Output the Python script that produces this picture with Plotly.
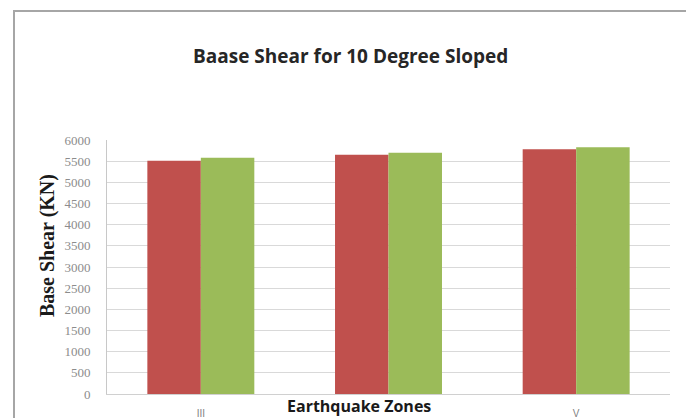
import plotly.graph_objects as go

# Earthquake zones and base shear (kN) for the two bar series
zones = ["III", "IV", "V"]
series_a = [5510, 5650, 5780]
series_b = [5580, 5700, 5830]
y_ticks = list(range(0, 6001, 500))
# the middle zone label sits under the axis title, so only the outer ones are printed
x_labels = ["III", "V"]

W, H = 686, 418
ML, MR, MT, MB = 107, 16, 140, 24
pw, ph = W - ML - MR, H - MT - MB


def px_x(x):
    return (x - ML) / pw


def px_y(y):
    return (H - MB - y) / ph


fig = go.Figure()
fig.add_trace(go.Bar(x=zones, y=series_a, marker=dict(color="#C0504D", line=dict(width=0)),
                     name="A", showlegend=False))
fig.add_trace(go.Bar(x=zones, y=series_b, marker=dict(color="#9BBB59", line=dict(width=0)),
                     name="B", showlegend=False))

fig.update_layout(
    width=W, height=H,
    margin=dict(l=ML, r=MR, t=MT, b=MB, autoexpand=False),
    paper_bgcolor="white", plot_bgcolor="white",
    barmode="group", bargap=0.43, bargroupgap=0,
    xaxis=dict(
        automargin=False,
        categoryorder="array", categoryarray=zones,
        tickvals=x_labels, ticktext=x_labels,
        showgrid=False, showline=True, linecolor="#D0D0D0", linewidth=1,
        ticks="", tickfont=dict(family="Liberation Sans", size=10, color="#7F7F7F"),
        ticklabelstandoff=10,
    ),
    yaxis=dict(
        automargin=False,
        range=[0, 6000], tickvals=y_ticks, ticktext=[str(v) for v in y_ticks],
        showgrid=True, gridcolor="#D9D9D9", gridwidth=1,
        showline=True, linecolor="#C8C8C8", linewidth=1, zeroline=False,
        ticks="", tickfont=dict(family="Liberation Serif", size=13, color="#8C8C8C"),
        ticklabelstandoff=13,
    ),
    font=dict(family="Open Sans"),
)

# Chart title
fig.add_annotation(
    text="<b>Baase Shear for 10 Degree Sloped</b>",
    xref="paper", yref="paper", x=px_x(350), y=px_y(56),
    xanchor="center", yanchor="middle", showarrow=False,
    font=dict(family="Open Sans", size=19, color="#262626"),
)

# Axis titles
fig.add_annotation(
    text="<b>Base Shear (KN)</b>",
    xref="paper", yref="paper", x=px_x(47), y=px_y(246),
    xanchor="center", yanchor="middle", showarrow=False, textangle=-90,
    font=dict(family="Liberation Serif", size=20, color="#1a1a1a"),
)
fig.add_annotation(
    text="<b>Earthquake Zones</b>",
    xref="paper", yref="paper", x=px_x(359), y=px_y(406),
    xanchor="center", yanchor="middle", showarrow=False,
    font=dict(family="Open Sans", size=16, color="#1a1a1a"),
)

# Outer chart frame
fig.add_shape(
    type="rect", xref="paper", yref="paper",
    x0=px_x(14), x1=px_x(W + 20), y0=px_y(H + 20), y1=px_y(11),
    line=dict(color="#A6A6A6", width=2), fillcolor="rgba(0,0,0,0)", layer="below",
)

fig.write_html("out.html")
